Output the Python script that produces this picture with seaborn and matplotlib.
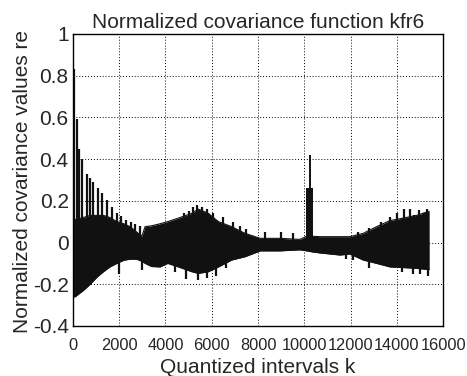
import numpy as np
import pandas as pd
import seaborn as sns
import matplotlib
matplotlib.use("Agg")
from matplotlib import pyplot as plt

# envelope of the dense oscillation
k_env = [0, 100, 450, 750, 1050, 1320, 1600, 1900, 2200, 2470, 2760, 2980, 3120,
         3400, 3770, 4100, 4560, 5140, 5420, 5850, 6290, 6860, 7440, 8100, 8950,
         9810, 10100, 10345, 10675, 11540, 11970, 12545, 13120, 13700, 14270,
         14850, 15395]
upper = [0.11, 0.11, 0.12, 0.13, 0.13, 0.13, 0.12, 0.10, 0.09, 0.076, 0.05, 0.03,
         0.076, 0.08, 0.09, 0.10, 0.117, 0.14, 0.16, 0.14, 0.10, 0.076, 0.044,
         0.02, 0.02, 0.015, 0.03, 0.03, 0.028, 0.028, 0.028, 0.044, 0.076, 0.105,
         0.117, 0.13, 0.15]
lower = [-0.26, -0.26, -0.23, -0.20, -0.165, -0.14, -0.117, -0.10, -0.085, -0.08,
         -0.08, -0.09, -0.10, -0.115, -0.117, -0.10, -0.117, -0.14, -0.148, -0.14,
         -0.117, -0.084, -0.068, -0.04, -0.04, -0.035, -0.04, -0.045, -0.05, -0.06,
         -0.055, -0.084, -0.10, -0.117, -0.12, -0.124, -0.13]

# periodic peaks sticking out of the envelope
spike_k = [60, 200, 270, 415, 600, 720, 890, 1080, 1280, 1470, 1680, 1900, 2085,
           2300, 2500, 2700, 2900, 4800, 5000, 5200, 5350, 5600, 5800, 6050, 6500,
           6900, 7200, 7500, 8300, 9000, 9500, 12300, 12800, 13300, 13700, 14000,
           14300, 14550, 14750, 14950, 15150, 15300]
spike_top = [0.83, 0.59, 0.45, 0.40, 0.33, 0.31, 0.29, 0.26, 0.235, 0.205, 0.17,
             0.14, 0.125, 0.11, 0.10, 0.09, 0.08, 0.14, 0.15, 0.17, 0.18, 0.17,
             0.16, 0.14, 0.12, 0.10, 0.08, 0.065, 0.05, 0.05, 0.045, 0.05, 0.07,
             0.10, 0.12, 0.14, 0.16, 0.16, 0.13, 0.155, 0.14, 0.16]
dip_k = [2000, 2980, 4400, 4900, 5400, 5800, 6200, 6600, 11800, 12100, 12800,
         14200, 14700, 15000, 15350]
dip_bottom = [-0.15, -0.13, -0.14, -0.175, -0.18, -0.17, -0.16, -0.12, -0.08,
              -0.085, -0.12, -0.14, -0.15, -0.15, -0.16]

# block and peak near k = 10200
block_k = [10080, 10370]
block_top = [0.26, 0.26]
block_bottom = [-0.04, -0.04]
peak_k = [10245]
peak_top = [0.42]

x_ticks = [0, 2000, 4000, 6000, 8000, 10000, 12000, 14000, 16000]
y_ticks = [-0.4, -0.2, 0, 0.2, 0.4, 0.6, 0.8, 1]
y_labels = ["-0.4", "-0.2", "0", "0.2", "0.4", "0.6", "0.8", "1"]

sns.set_style("white")
plt.rcParams['font.family'] = ['Liberation Sans', 'DejaVu Sans']

env = pd.DataFrame({"k": k_env, "upper": upper, "lower": lower})

fig = plt.figure(figsize=(4.67, 3.76), dpi=100)
ax = fig.add_axes([0.156, 0.133, 0.793, 0.777])

ax.fill_between(env["k"], env["lower"], env["upper"], color="#111111", lw=0)
sns.lineplot(data=env, x="k", y="upper", color="#111111", lw=0.8, ax=ax)
sns.lineplot(data=env, x="k", y="lower", color="#111111", lw=0.8, ax=ax)
ax.vlines(spike_k, 0, spike_top, color="#111111", lw=1.6)
ax.vlines(dip_k, 0, dip_bottom, color="#111111", lw=1.6)
ax.fill_between(block_k, block_bottom, block_top, color="#111111", lw=0)
ax.vlines(peak_k, 0, peak_top, color="#111111", lw=1.4)

ax.set_xlim(0, 16000)
ax.set_ylim(-0.4, 1)
ax.set_xticks(x_ticks)
ax.set_xticklabels([str(t) for t in x_ticks], fontsize=11.8)
ax.set_yticks(y_ticks)
ax.set_yticklabels(y_labels, fontsize=15)
ax.tick_params(axis="x", direction="in", length=0, pad=9)
ax.tick_params(axis="y", direction="in", length=0, pad=3)

ax.grid(True, color="black", linestyle=(0, (1, 2)), linewidth=0.7)
for s in ax.spines.values():
    s.set_color("black")
    s.set_linewidth(1)
    s.set_visible(True)

ax.set_title("Normalized covariance function kfr6", fontsize=15, pad=4)
ax.set_xlabel("Quantized intervals k", fontsize=15, labelpad=3)
ax.set_ylabel("Normalized covariance values re", fontsize=15)
ax.yaxis.set_label_coords(-0.11, 0.495)

fig.savefig("out.png", dpi=100)
